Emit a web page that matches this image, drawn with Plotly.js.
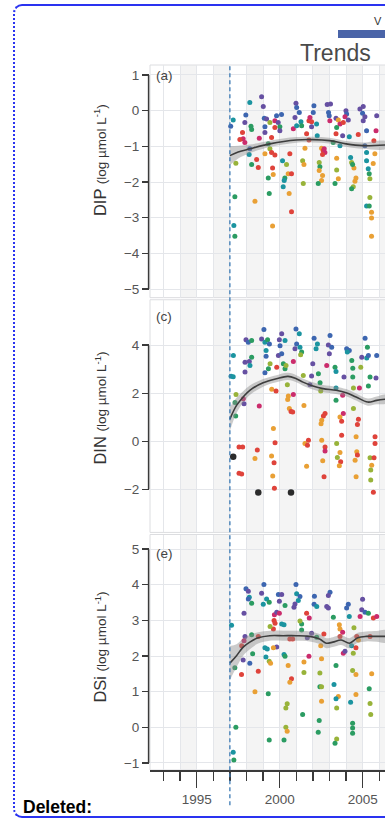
<!DOCTYPE html>
<html><head><meta charset="utf-8">
<script src="https://cdn.plot.ly/plotly-3.0.1.min.js"></script>
<style>
html,body{margin:0;padding:0;background:#fff;overflow:hidden;}
#chart{width:385px;height:819px;position:absolute;left:0;top:0;}
#frame{position:absolute;left:13px;top:4px;width:420px;height:814px;border-top:2px solid #2a33f0;border-bottom:2px solid #2a33f0;border-left:2px dotted #2a33f0;border-radius:9px;pointer-events:none;box-sizing:border-box;}
</style></head>
<body><div id="chart"></div><div id="frame"></div>
<script>
// ---------- DATA ----------
const palette = {P:'#6650a2',B:'#3d66b0',T:'#1b94a0',G:'#2b9c62',O:'#98b33a',Y:'#e9a035',R:'#df433b',M:'#cb2c6c'};

// DIP panel (a)
const dipYear = [1998.91,1998.20,1999.01,1997.20,1997.96,1997.90,1998.27,1998.31,1997.76,1997.80,1997.90,1997.60,1999.07,1999.21,1999.41,1999.11,1999.11,1999.71,1999.81,1999.91,2000.11,2000.01,1999.71,2000.01,1998.77,1999.51,2000.98,2001.02,2001.18,2000.92,2001.28,2000.82,2001.02,2001.32,2001.62,2001.76,2001.92,2001.82,2002.06,2002.02,2001.92,2002.22,2002.26,2001.76,2002.86,2003.06,2002.94,2002.98,2003.02,2003.39,2003.53,2003.63,2003.99,2004.03,2003.93,2004.13,2003.83,2003.43,2003.39,2003.79,2004.19,2004.83,2005.03,2004.99,2005.13,2005.03,2004.73,2005.23,2005.84,2005.80,2005.67,1998.20,1998.16,1999.41,1999.31,1999.11,1999.51,1999.71,2000.61,2001.52,2002.52,2002.62,2002.72,2002.68,2002.58,2003.22,2003.63,2005.13,2005.23,2005.73,1997.36,1998.31,1998.71,1998.61,1999.57,1999.61,1999.31,2000.17,2000.41,2000.51,2000.71,2000.31,2000.27,2000.21,2001.38,2001.46,2001.42,2002.38,2002.42,2002.38,2002.58,2002.52,2002.32,2003.43,2003.43,2003.53,2003.33,2004.27,2004.33,2004.47,2004.39,2004.59,2004.53,2004.43,2004.33,2005.23,2005.33,2005.39,2005.43,2005.63,1997.30,1998.51,1999.37,2000.57,2000.71,1999.57,1997.24,1997.30,2005.23,2005.39,2005.43,2005.53,2005.53,2005.53,1997.05];
const dipVal = [0.39,0.23,0.12,-0.26,-0.12,-0.33,-0.44,-0.53,-0.61,-0.79,-0.89,-0.81,-0.21,-0.23,-0.33,-0.45,-0.61,-0.28,-0.14,-0.33,-0.11,-0.45,-0.47,-0.56,-0.77,-0.75,0.21,0.09,-0.05,-0.19,-0.31,-0.51,-0.42,-0.42,-0.65,-0.28,-0.31,-0.19,0.14,-0.05,-0.45,-0.37,-0.70,-0.82,0.17,0.19,-0.05,-0.14,-0.28,-0.21,-0.26,-0.37,0.00,-0.09,-0.17,-0.26,-0.33,-0.47,-0.65,-0.70,-0.73,0.05,0.12,-0.07,-0.17,-0.28,-0.67,-0.56,-0.14,-0.56,-0.84,-1.07,-1.23,-1.07,-0.93,-1.21,-1.17,-1.24,-1.21,-1.05,-1.05,-1.12,-1.17,-1.07,-1.23,-0.89,-0.98,-0.98,-1.17,-1.21,-1.47,-1.51,-1.59,-1.37,-1.61,-1.79,-1.89,-1.40,-1.51,-1.77,-1.77,-1.89,-1.96,-2.13,-1.40,-1.51,-2.04,-1.45,-1.57,-1.68,-1.82,-1.96,-2.04,-1.33,-1.66,-1.91,-2.04,-1.31,-1.45,-1.61,-1.51,-1.89,-1.98,-2.13,-2.19,-1.40,-1.63,-1.77,-1.91,-1.48,-2.41,-2.54,-2.32,-2.32,-2.83,-3.23,-3.22,-3.52,-2.67,-2.67,-2.43,-2.85,-3.01,-3.52,-0.44];
const dipCol = ['P','T','P','T','B','P','G','G','R','M','M','R','B','P','O','B','P','M','B','P','B','G','R','P','M','R','P','B','B','P','T','M','T','G','R','R','R','M','B','B','P','T','T','R','P','P','B','B','M','P','Y','M','P','B','M','P','R','G','R','P','T','P','P','B','P','P','R','B','P','M','R','B','T','O','G','Y','R','R','R','Y','Y','R','M','M','R','G','T','B','T','Y','O','G','R','R','R','Y','G','T','O','Y','R','G','T','T','O','Y','O','O','G','Y','Y','Y','G','Y','O','Y','G','T','O','Y','G','Y','Y','O','G','T','T','G','O','Y','G','Y','G','Y','R','Y','T','G','T','G','O','Y','Y','Y','B'];
const dipTrendYear = [1997.0,1997.5,1998.2,1999.4,2001.0,2002.0,2003.0,2004.0,2005.0,2006.4];
const dipTrendVal  = [-1.26,-1.16,-1.07,-0.93,-0.82,-0.81,-0.84,-0.93,-0.98,-0.96];
const dipTrendSE   = [0.27,0.18,0.12,0.09,0.08,0.08,0.08,0.08,0.09,0.10];

// DIN panel (c)
const dinYear = [1999.05,2000.12,2000.98,2001.18,1997.97,1998.11,1998.31,1998.91,1999.11,1999.27,1999.38,1999.98,2000.32,2000.02,2000.92,2001.02,2001.22,2001.32,2001.26,2002.07,2003.03,2002.27,2002.19,2002.93,2003.13,2002.99,2004.03,2004.19,2004.07,2005.14,2005.28,2004.94,2005.24,2005.34,2005.84,1997.21,1998.31,1998.17,1997.91,1998.21,1997.91,1999.18,1999.18,1999.42,1999.32,1999.11,1999.82,1999.92,2000.12,2000.22,2000.32,2000.38,2000.82,2001.42,2001.92,2001.99,2002.33,2002.83,2003.33,2003.39,2003.87,2004.34,2004.40,2004.40,2004.88,2004.80,2005.44,2005.80,1997.07,1997.20,1997.37,1997.31,1997.35,1997.55,1997.55,1997.81,1997.85,1998.77,1999.52,1999.78,2000.46,2000.52,2000.48,2000.82,2000.58,2000.68,2000.78,2001.46,2001.82,2002.43,2002.47,2003.39,2003.79,2003.39,2004.44,2004.44,2005.34,2002.73,2002.63,2002.53,2002.49,2003.83,2003.63,2003.73,2004.74,2004.68,1999.62,1999.72,1997.77,1998.65,1998.51,1999.51,1999.66,1997.71,1999.58,1999.68,2001.52,2001.73,2001.67,2001.62,2002.53,2002.73,2002.73,2002.59,2002.67,2003.43,2003.63,2003.47,2003.67,2003.59,2003.73,2004.60,2004.64,2004.68,2004.54,2004.60,2005.44,2005.54,2005.48,2005.48,2005.74,2005.74,2005.68,2005.64];
const dinVal = [4.65,4.47,4.67,4.47,4.23,4.12,4.19,4.26,4.12,4.22,4.05,4.22,4.19,3.98,3.85,4.05,3.91,3.71,3.60,4.29,4.40,4.05,3.85,4.01,3.91,3.64,3.85,3.78,3.71,4.29,3.91,3.50,3.46,3.57,3.57,3.57,3.50,3.32,3.29,3.15,2.88,3.78,3.54,3.22,3.02,2.85,3.08,3.57,3.64,3.22,3.02,3.15,3.32,2.74,2.71,3.22,2.81,3.15,3.08,2.90,2.67,3.36,3.04,2.67,3.08,2.21,2.67,2.63,2.70,2.68,1.94,1.61,1.05,-0.24,-1.34,1.77,1.56,1.47,2.16,2.09,2.35,1.88,1.74,1.94,1.36,1.24,1.22,1.49,2.35,2.43,2.09,1.70,1.91,2.21,2.21,1.36,2.30,1.15,1.05,0.87,0.73,1.15,1.01,0.83,0.91,0.69,0.53,-0.06,-0.24,-0.37,-0.72,-0.62,-0.90,-1.37,-1.45,-1.96,-0.10,0.04,-0.17,-1.04,0.04,-0.24,-0.41,-0.82,-1.48,-0.10,-0.47,-0.68,-0.86,-1.02,0.25,0.18,-0.44,-0.58,-0.79,-1.48,-0.69,-1.00,-1.20,-1.62,0.18,-0.10,-0.69,-2.13];
const dinCol = ['B','P','B','T','P','B','G','P','T','G','B','P','T','B','P','B','T','G','O','B','B','T','T','P','B','P','B','B','T','B','G','P','T','B','B','T','G','P','P','T','P','T','B','O','G','B','R','P','B','G','G','O','M','O','P','P','G','M','G','T','P','G','G','G','O','M','G','P','T','T','O','G','G','R','R','M','P','M','Y','R','O','Y','Y','M','Y','R','R','Y','P','G','O','G','M','T','O','O','G','R','R','Y','Y','M','Y','R','R','R','Y','R','R','R','Y','Y','R','R','Y','R','Y','R','R','Y','Y','R','M','Y','R','O','Y','O','R','Y','R','Y','Y','R','Y','Y','O','Y','O','O','R','R','R','R'];
const dinBlackYear = [1997.20,1998.71,2000.68];
const dinBlackVal  = [-0.65,-2.14,-2.14];
const dinTrendYear = [1997.0,1997.4,1997.8,1998.2,1999.0,1999.8,2000.5,2001.0,2001.4,2002.0,2002.6,2003.4,2004.0,2004.6,2005.3,2005.84,2006.4];
const dinTrendVal  = [0.92,1.49,1.84,2.12,2.43,2.60,2.70,2.60,2.46,2.30,2.19,2.12,2.02,1.84,1.63,1.70,1.75];
const dinTrendSE   = [0.50,0.32,0.24,0.20,0.16,0.15,0.15,0.15,0.15,0.15,0.15,0.15,0.15,0.15,0.15,0.16,0.18];

// DSi panel (e)
const dsiYear = [1999.05,2000.98,1997.97,1998.11,1998.91,1999.21,1999.01,1999.37,1998.17,1998.11,1998.31,1999.92,2000.12,1999.98,2000.32,2001.02,2001.22,2001.12,2000.92,2000.86,2002.09,2002.07,2002.23,2003.03,2002.93,2002.83,2002.93,2003.23,2004.13,2004.03,2004.19,2004.99,2004.94,2005.14,2004.84,2005.34,2005.64,2005.84,1997.10,1997.85,1999.68,1999.82,1999.98,1999.66,1999.72,1999.62,1999.42,2000.12,2000.26,2001.62,2001.78,2001.32,2001.22,2001.32,2001.92,2002.66,2003.59,2003.63,2003.79,2003.63,2004.47,2004.64,2004.74,2005.44,1997.91,1997.85,1997.71,1998.31,1998.71,1999.11,1999.25,1999.82,1999.62,2000.61,2000.78,2001.66,2002.23,2002.47,2004.33,2004.43,2003.83,2003.93,2004.59,1997.30,1997.80,1998.20,1998.37,1997.70,1998.71,1999.17,1999.37,1999.45,2000.26,2000.32,2000.51,2000.71,2000.61,2001.46,2001.46,2001.76,2002.42,2002.52,2002.42,2002.52,2003.27,2003.39,2004.39,2004.59,2005.54,2005.39,1998.51,1999.31,2000.45,2000.37,2001.38,2002.52,2003.53,2003.39,2003.43,2004.27,2004.59,2005.44,2005.48,1997.36,2000.37,2000.45,1999.37,2000.26,2002.38,2002.32,2004.39,2004.39,2004.39,2003.43,2003.33,1997.20,1997.24];
const dsiVal = [4.01,4.01,3.89,3.82,3.76,3.60,3.45,3.51,3.65,3.60,3.48,3.73,3.73,3.54,3.42,3.75,3.67,3.56,3.46,3.37,3.68,3.45,3.39,3.79,3.70,3.39,3.35,3.09,3.45,3.35,3.11,3.59,3.30,3.23,3.11,3.20,3.07,3.11,2.86,3.20,3.16,3.23,3.20,3.00,2.92,2.76,2.83,2.90,2.88,3.20,3.07,2.90,2.98,2.73,2.64,2.62,2.88,2.76,2.67,2.55,2.79,2.55,2.45,2.55,2.55,2.43,2.29,2.60,2.55,2.23,2.20,2.25,2.23,2.48,2.48,2.51,2.53,2.29,2.29,2.08,2.08,2.13,2.23,1.67,1.89,1.80,2.06,1.48,1.57,1.97,1.85,1.80,2.04,1.99,1.73,1.36,1.26,1.83,1.54,1.99,1.52,1.92,1.14,1.14,1.20,1.73,1.59,1.48,1.50,1.08,1.00,0.94,0.66,0.54,0.36,0.73,0.86,0.80,0.54,0.70,0.92,0.67,0.36,0.00,0.00,-0.11,-0.36,-0.36,0.19,-0.14,0.11,-0.02,-0.17,-0.33,-0.45,-0.70,-0.92];
const dsiCol = ['B','B','B','P','P','T','T','G','T','B','G','B','P','P','G','T','B','T','P','P','B','B','T','B','P','P','P','G','B','B','T','P','P','B','M','G','R','M','T','P','M','P','M','R','R','R','O','T','T','R','M','G','O','G','P','R','Y','Y','M','R','O','R','Y','R','P','M','R','G','R','T','T','P','Y','R','R','P','G','Y','T','O','M','P','R','G','P','B','G','R','R','T','O','Y','T','G','Y','R','Y','Y','O','M','O','Y','G','O','T','G','O','Y','Y','G','Y','G','O','O','G','Y','Y','T','O','T','Y','O','O','G','O','Y','G','G','G','G','G','G','G','O','G','T','G'];
const dsiTrendYear = [1997.0,1997.4,1997.8,1998.2,1998.7,1999.4,2000.2,2001.0,2001.8,2002.4,2002.8,2003.2,2003.7,2004.2,2004.7,2005.2,2005.84,2006.4];
const dsiTrendVal  = [1.80,2.01,2.25,2.39,2.51,2.57,2.57,2.57,2.55,2.48,2.36,2.39,2.45,2.36,2.51,2.55,2.55,2.55];
const dsiTrendSE   = [0.48,0.32,0.24,0.20,0.16,0.14,0.14,0.14,0.14,0.14,0.14,0.14,0.14,0.14,0.14,0.14,0.15,0.17];

const breakYear = 1997;
const xRange = [1992.19, 2006.34];
const panels = [
  {key:'a', label:'(a)', name:'DIP', ticks:[-5,-4,-3,-2,-1,0,1], range:[-5.24,1.28], domain:[0.670,1.0]},
  {key:'c', label:'(c)', name:'DIN', ticks:[-2,0,2,4], range:[-3.80,5.89], domain:[0.337,0.667]},
  {key:'e', label:'(e)', name:'DSi', ticks:[-1,0,1,2,3,4,5], range:[-1.20,5.41], domain:[0.0,0.334]}
];

// ---------- BUILD ----------
const F = '"Liberation Sans", Arial, Helvetica, sans-serif';
const grid = '#e4e6ea';
const traces = [];

function addPanel(i, yrs, vals, cols, tY, tV, tSE) {
  const xa = i === 0 ? 'x' : 'x' + (i + 1);
  const ya = i === 0 ? 'y' : 'y' + (i + 1);
  traces.push({type:'scatter', mode:'markers', x:yrs, y:vals, xaxis:xa, yaxis:ya,
    marker:{size:5, color:cols.map(c => palette[c]), line:{width:0}}, hoverinfo:'skip'});
  const up = tV.map((v, k) => v + tSE[k]);
  const lo = tV.map((v, k) => v - tSE[k]);
  traces.push({type:'scatter', mode:'lines', x:tY.concat(tY.slice().reverse()), y:up.concat(lo.slice().reverse()),
    xaxis:xa, yaxis:ya, fill:'toself', fillcolor:'rgba(140,140,140,0.45)', line:{width:0, shape:'spline'}, hoverinfo:'skip'});
  traces.push({type:'scatter', mode:'lines', x:tY, y:tV, xaxis:xa, yaxis:ya,
    line:{color:'#3d3d3d', width:1.6, shape:'spline'}, hoverinfo:'skip'});
}
addPanel(0, dipYear, dipVal, dipCol, dipTrendYear, dipTrendVal, dipTrendSE);
addPanel(1, dinYear, dinVal, dinCol, dinTrendYear, dinTrendVal, dinTrendSE);
addPanel(2, dsiYear, dsiVal, dsiCol, dsiTrendYear, dsiTrendVal, dsiTrendSE);
traces.push({type:'scatter', mode:'markers', x:dinBlackYear, y:dinBlackVal, xaxis:'x2', yaxis:'y2',
  marker:{size:6.5, color:'#2b2b2b'}, hoverinfo:'skip'});

const layout = {
  width:385, height:819, margin:{l:150, r:0, t:65, b:49},
  paper_bgcolor:'rgba(0,0,0,0)', plot_bgcolor:'rgba(0,0,0,0)', showlegend:false,
  font:{family:F, color:'#444'},
  shapes:[], annotations:[]
};

const tickFont = {family:F, size:13.5, color:'#555'};
panels.forEach((p, i) => {
  const sfx = i === 0 ? '' : String(i + 1);
  const xa = 'x' + sfx, ya = 'y' + sfx;
  const xBase = {range:xRange, showgrid:true, gridcolor:grid, gridwidth:1, zeroline:false, anchor:ya, fixedrange:true};
  if (i < 2) {
    layout['xaxis' + sfx] = Object.assign({}, xBase, {tick0:1990, dtick:1, ticks:'', showticklabels:false, showline:false});
  } else {
    layout['xaxis' + sfx] = Object.assign({}, xBase, {tick0:1995, dtick:5, ticks:'outside', ticklen:16, tickwidth:1.3,
      tickcolor:'#3a3a3a', showline:true, linecolor:'#3a3a3a', linewidth:1.5, tickfont:tickFont,
      minor:{tick0:1990, dtick:1, ticks:'outside', ticklen:9, tickwidth:1.3, tickcolor:'#3a3a3a', showgrid:true, gridcolor:grid}});
  }
  layout['yaxis' + sfx] = {domain:p.domain, range:p.range, tickvals:p.ticks, anchor:xa, ticks:'outside', ticklen:7,
    tickwidth:1.3, tickcolor:'#3a3a3a', showgrid:true, gridcolor:grid, zeroline:false, showline:false,
    tickfont:tickFont, fixedrange:true};

  // alternating year bands
  for (let s = 1994; s < xRange[1]; s += 2) {
    layout.shapes.push({type:'rect', xref:xa, yref:ya + ' domain', x0:s, x1:s + 1, y0:0, y1:1,
      fillcolor:'#f4f4f4', line:{width:0}, layer:'below'});
  }
  // panel border
  layout.shapes.push({type:'rect', xref:xa + ' domain', yref:ya + ' domain', x0:0, x1:1.02, y0:0, y1:1,
    line:{color:'#dcdde0', width:1}, layer:'below'});
  // truncated y axis line
  layout.shapes.push({type:'line', xref:'paper', yref:ya, x0:-0.006, x1:-0.006,
    y0:Math.min(...p.ticks), y1:Math.max(...p.ticks), line:{color:'#3a3a3a', width:1.5}});
  // panel tag
  layout.annotations.push({xref:'paper', yref:ya + ' domain', x:0.015, y:[0.955, 0.93, 0.92][i], xanchor:'left', yanchor:'middle',
    text:p.label, showarrow:false, font:{family:F, size:13.5, color:'#444'}});
  // y title
  layout.annotations.push({xref:'paper', yref:'paper', x:-0.213, y:[0.865, 0.514, 0.175][i], xanchor:'center', yanchor:'middle',
    textangle:-90, showarrow:false,
    text:p.name + ' <span style="font-size:13.5px">(log µmol L<sup>-1</sup>)</span>',
    font:{family:F, size:16.5, color:'#333'}});
});

// dashed break line
layout.shapes.push({type:'line', xref:'x3', yref:'paper', x0:breakYear, x1:breakYear, y0:-0.05, y1:1,
  line:{color:'#3b79b3', width:1.3, dash:'4px,3px'}});
// legend colour bar fragment at the top
layout.shapes.push({type:'rect', xref:'paper', yref:'paper', x0:0.80, x1:1.05, y0:1.0383, y1:1.0496,
  fillcolor:'#4a64a8', line:{width:0}});

layout.annotations.push({xref:'paper', yref:'paper', x:0.951, y:1.017, xanchor:'right', yanchor:'middle',
  text:'Trends', showarrow:false, font:{family:F, size:23, color:'#4a4a4a'}});
layout.annotations.push({xref:'paper', yref:'paper', x:0.946, y:1.0625, xanchor:'left', yanchor:'middle',
  text:'V', showarrow:false, font:{family:F, size:11, color:'#333'}});
layout.annotations.push({xref:'paper', yref:'paper', x:-0.55, y:-0.0525, xanchor:'left', yanchor:'middle',
  text:'<b>Deleted:</b>', showarrow:false, font:{family:F, size:17.5, color:'#000'}});

Plotly.newPlot('chart', traces, layout, {displayModeBar:false, staticPlot:true});
</script></body></html>
